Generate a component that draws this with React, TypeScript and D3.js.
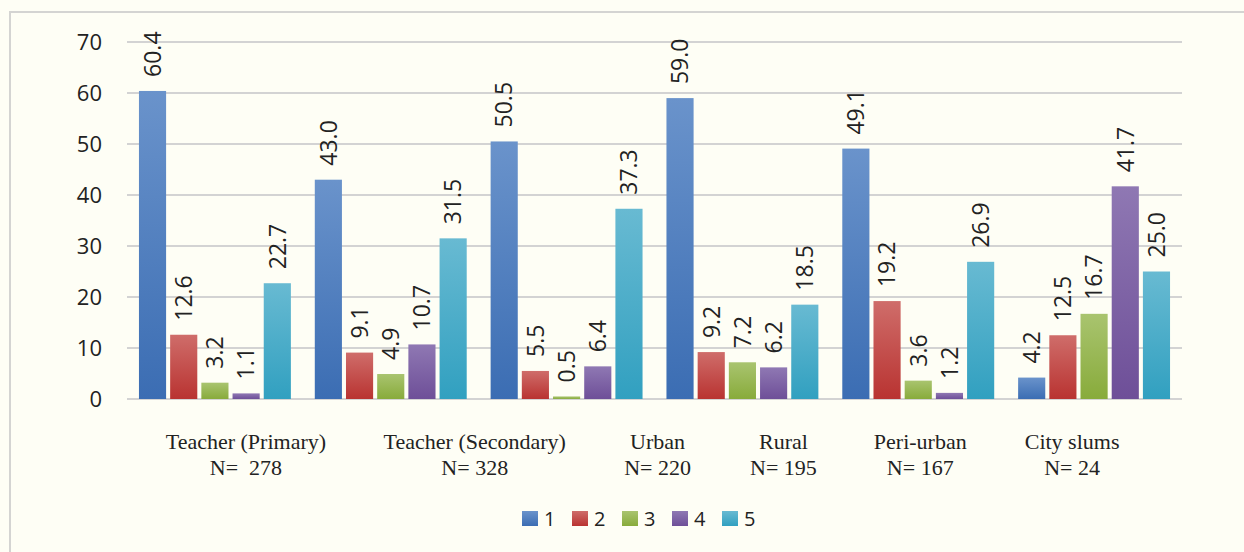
import React, { useRef, useEffect } from 'react';
import * as d3 from 'd3';

const groups = ['Teacher (Primary)', 'Teacher (Secondary)', 'Urban', 'Rural', 'Peri-urban', 'City slums'];
const groupN = ['N=  278', 'N= 328', 'N= 220', 'N= 195', 'N= 167', 'N= 24'];
const seriesNames = ['1', '2', '3', '4', '5'];
const series1 = [60.4, 43.0, 50.5, 59.0, 49.1, 4.2];
const series2 = [12.6, 9.1, 5.5, 9.2, 19.2, 12.5];
const series3 = [3.2, 4.9, 0.5, 7.2, 3.6, 16.7];
const series4 = [1.1, 10.7, 6.4, 6.2, 1.2, 41.7];
const series5 = [22.7, 31.5, 37.3, 18.5, 26.9, 25.0];
const yTicks = [0, 10, 20, 30, 40, 50, 60, 70];

const allSeries = [series1, series2, series3, series4, series5];
const colors = [
    ['#6a93cb', '#3b6db3'],
    ['#cf6d6a', '#b93331'],
    ['#a9c46f', '#88ab3b'],
    ['#8f78b3', '#6e4f98'],
    ['#68bad2', '#31a0c0'],
];

function App() {
    const chartRef = useRef(null);

    useEffect(() => {
        const width = 1244;
        const height = 552;
        const left = 127;
        const right = 1182;
        const top = 42;
        const bottom = 399;
        const sans = '"Open Sans", "DejaVu Sans", sans-serif';
        // category labels sit a little off the group centres in the original
        const labelShift = [31, 84, 91, 41, 2, -22];

        const svg = d3.select(chartRef.current)
            .append('svg')
            .attr('width', width)
            .attr('height', height)
            .style('display', 'block');

        svg.append('rect')
            .attr('width', width)
            .attr('height', height)
            .attr('fill', '#fefef5');

        svg.append('rect')
            .attr('x', 10)
            .attr('y', 12)
            .attr('width', width + 20)
            .attr('height', height + 20)
            .attr('fill', 'none')
            .attr('stroke', '#d4d4d2')
            .attr('stroke-width', 2);

        const defs = svg.append('defs');
        colors.forEach((c, i) => {
            const g = defs.append('linearGradient')
                .attr('id', 'grad' + i)
                .attr('x1', 0).attr('y1', 0).attr('x2', 0).attr('y2', 1);
            g.append('stop').attr('offset', '0%').attr('stop-color', c[0]);
            g.append('stop').attr('offset', '100%').attr('stop-color', c[1]);
        });

        const y = d3.scaleLinear().domain([0, 70]).range([bottom, top]);
        const x0 = d3.scaleBand()
            .domain(groups)
            .range([left, right])
            .paddingInner(0.136)
            .paddingOuter(0.068);
        const x1 = d3.scaleBand()
            .domain(seriesNames)
            .range([0, x0.bandwidth()])
            .paddingInner(0.13);

        // grid
        svg.append('g')
            .selectAll('line')
            .data(yTicks)
            .enter()
            .append('line')
            .attr('x1', left)
            .attr('x2', right)
            .attr('y1', (d) => y(d))
            .attr('y2', (d) => y(d))
            .attr('stroke', '#d3d3d3')
            .attr('stroke-width', 2);

        svg.append('g')
            .selectAll('text')
            .data(yTicks)
            .enter()
            .append('text')
            .attr('x', 102)
            .attr('y', (d) => y(d))
            .attr('dy', '0.36em')
            .attr('text-anchor', 'end')
            .attr('font-family', sans)
            .attr('font-size', 22)
            .attr('fill', '#222')
            .text((d) => d);

        const groupG = svg.append('g')
            .selectAll('g')
            .data(groups)
            .enter()
            .append('g')
            .attr('transform', (d) => `translate(${x0(d)},0)`);

        groupG.selectAll('rect')
            .data((d, gi) => allSeries.map((s, si) => ({ key: seriesNames[si], si, v: s[gi] })))
            .enter()
            .append('rect')
            .attr('x', (d) => x1(d.key))
            .attr('width', x1.bandwidth())
            .attr('y', (d) => y(d.v))
            .attr('height', (d) => bottom - y(d.v))
            .attr('fill', (d) => `url(#grad${d.si})`);

        groupG.selectAll('text')
            .data((d, gi) => allSeries.map((s, si) => ({ key: seriesNames[si], si, v: s[gi] })))
            .enter()
            .append('text')
            .attr('transform', (d) => `translate(${x1(d.key) + x1.bandwidth() / 2},${y(d.v) - 14}) rotate(-90)`)
            .attr('dy', '0.36em')
            .attr('text-anchor', 'start')
            .attr('font-family', sans)
            .attr('font-size', 23)
            .attr('fill', '#222')
            .text((d) => d.v.toFixed(1));

        // category labels
        const cat = svg.append('g')
            .selectAll('text')
            .data(groups)
            .enter()
            .append('text')
            .attr('text-anchor', 'middle')
            .attr('font-family', '"Liberation Serif", serif')
            .attr('font-size', 22)
            .attr('fill', '#222')
            .style('white-space', 'pre');
        cat.append('tspan')
            .attr('x', (d, i) => x0(d) + x0.bandwidth() / 2 + labelShift[i])
            .attr('y', 449)
            .text((d) => d);
        cat.append('tspan')
            .attr('x', (d, i) => x0(d) + x0.bandwidth() / 2 + labelShift[i])
            .attr('y', 475)
            .text((d, i) => groupN[i]);

        // legend
        const legendStep = 50;
        const legendX = 522;
        const legend = svg.append('g')
            .selectAll('g')
            .data(seriesNames)
            .enter()
            .append('g')
            .attr('transform', (d, i) => `translate(${legendX + i * legendStep},511)`);
        legend.append('rect')
            .attr('width', 16)
            .attr('height', 15)
            .attr('fill', (d, i) => `url(#grad${i})`);
        legend.append('text')
            .attr('x', 22)
            .attr('y', 8)
            .attr('dy', '0.36em')
            .attr('font-family', sans)
            .attr('font-size', 20)
            .attr('fill', '#222')
            .text((d) => d);

        return () => {
            svg.remove();
        };
    }, []);

    return (
        <div ref={chartRef}
            style={{ position: 'absolute', left: 0, top: 0, overflow: 'hidden' }}>
        </div>
    );
}

export default App;
